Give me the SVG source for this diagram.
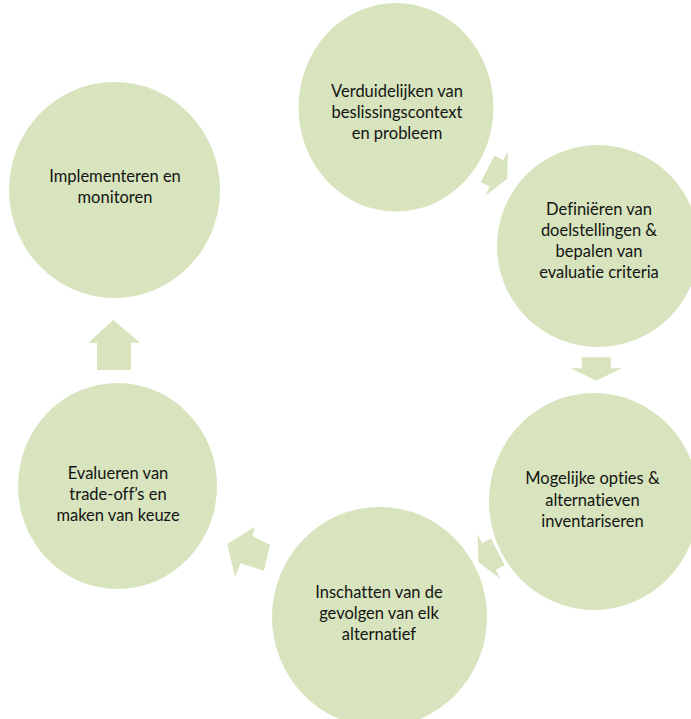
<svg xmlns="http://www.w3.org/2000/svg" width="691" height="719" viewBox="0 0 691 719">
  <defs>
    <style>
      .node { fill: #D7E4BD; }
      .arrow { fill: #D7E4BD; }
      .label { font-family: Lato, "Liberation Sans", sans-serif; font-size: 16.5px; fill: #141414; text-anchor: middle; font-variant-ligatures: none; }
    </style>
  </defs>
  <rect width="691" height="719" fill="#FFFFFF"/>

  <!-- cycle arrows -->
  <g id="connectors">
    <!-- step 1 to step 2 -->
    <polygon class="arrow" transform="translate(496.5,173.5) rotate(27)" points="-10,-15 0,-15 0,-25 12,0 0,25 0,15 -10,15"/>
    <!-- step 2 to step 3 -->
    <polygon class="arrow" transform="translate(596.3,368.3) rotate(90)" points="-11,-14.5 0,-14.5 0,-25.5 12.4,0 0,25.5 0,14.5 -11,14.5"/>
    <!-- step 3 to step 4 -->
    <polygon class="arrow" transform="translate(489,556.5) rotate(153)" points="-10,-15 0,-15 0,-25 12,0 0,25 0,15 -10,15"/>
    <!-- step 4 to step 5 -->
    <polygon class="arrow" points="227.3,544 255,526.7 252.3,536 270,545 264,570.7 240.7,563.3 235,576.7"/>
    <!-- step 5 to step 6 -->
    <polygon class="arrow" points="97,370 131,370 131,342.7 140,342.7 113.3,320 88.3,342.7 97,342.7"/>
  </g>

  <g id="node-verduidelijken">
    <ellipse class="node" cx="396" cy="107.3" rx="97.5" ry="104.3"/>
    <text class="label" x="397" y="96.5">Verduidelijken van</text>
    <text class="label" x="397" y="117.5">beslissingscontext</text>
    <text class="label" x="397" y="138.5">en probleem</text>
  </g>

  <g id="node-definieren">
    <ellipse class="node" cx="598" cy="246" rx="101" ry="101"/>
    <text class="label" x="599" y="215">Definiëren van</text>
    <text class="label" x="599" y="236">doelstellingen &amp;</text>
    <text class="label" x="599" y="257">bepalen van</text>
    <text class="label" x="599" y="278">evaluatie criteria</text>
  </g>

  <g id="node-opties">
    <ellipse class="node" cx="594" cy="501.5" rx="105" ry="108.5"/>
    <text class="label" x="592.5" y="484">Mogelijke opties &amp;</text>
    <text class="label" x="592.5" y="505.5">alternatieven</text>
    <text class="label" x="592.5" y="527">inventariseren</text>
  </g>

  <g id="node-inschatten">
    <ellipse class="node" cx="379.5" cy="617" rx="107.5" ry="110"/>
    <text class="label" x="379" y="597.5">Inschatten van de</text>
    <text class="label" x="379" y="618.5">gevolgen van elk</text>
    <text class="label" x="379" y="640">alternatief</text>
  </g>

  <g id="node-evalueren">
    <ellipse class="node" cx="117.5" cy="486" rx="99.5" ry="103"/>
    <text class="label" x="118" y="479">Evalueren van</text>
    <text class="label" x="118" y="500">trade-off’s en</text>
    <text class="label" x="118" y="521">maken van keuze</text>
  </g>

  <g id="node-implementeren">
    <ellipse class="node" cx="114.5" cy="190" rx="105.5" ry="108"/>
    <text class="label" x="115" y="182">Implementeren en</text>
    <text class="label" x="115" y="203">monitoren</text>
  </g>
</svg>
